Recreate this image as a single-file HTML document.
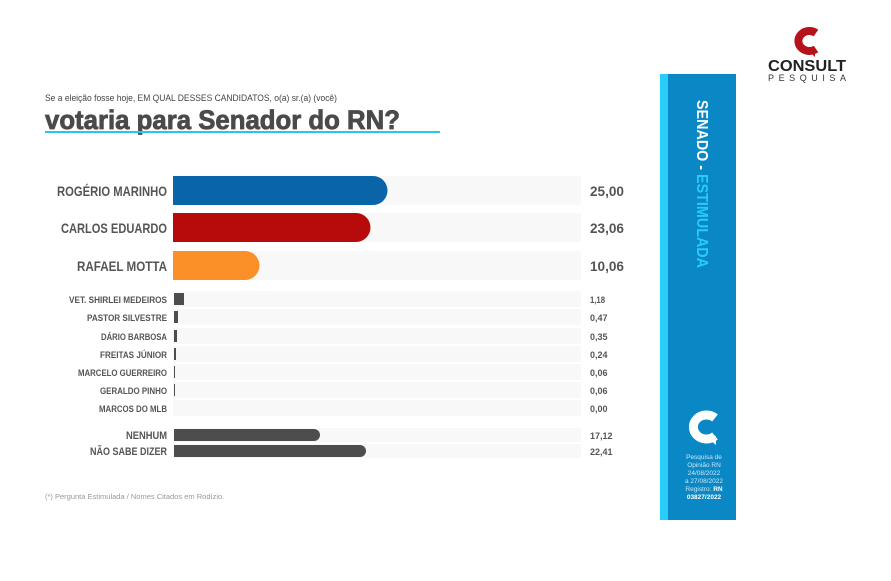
<!DOCTYPE html>
<html><head><meta charset="utf-8"><style>
html,body{margin:0;padding:0;background:#fff;}
svg{display:block;font-family:"Liberation Sans",sans-serif;}
</style></head><body>
<svg width="891" height="581" viewBox="0 0 891 581" xmlns="http://www.w3.org/2000/svg">
<rect width="891" height="581" fill="#fff"/>
<text x="45" y="101" font-size="9" fill="#444" textLength="292" lengthAdjust="spacingAndGlyphs">Se a eleição fosse hoje, EM QUAL DESSES CANDIDATOS, o(a) sr.(a) (você)</text>
<text x="45" y="129" font-size="27" font-weight="bold" fill="#4a4a4a" textLength="355" lengthAdjust="spacingAndGlyphs" stroke="#4a4a4a" stroke-width="0.8">votaria para Senador do RN?</text>
<rect x="45" y="131" width="395" height="2" fill="#29c5f0"/>
<g fill="#f8f8f8">
<rect x="173" y="176" width="408" height="29"/>
<rect x="173" y="213" width="408" height="29"/>
<rect x="173" y="251" width="408" height="29"/>
<rect x="173" y="291" width="408" height="16"/>
<rect x="173" y="309" width="408" height="16"/>
<rect x="173" y="328" width="408" height="16"/>
<rect x="173" y="346" width="408" height="16"/>
<rect x="173" y="364" width="408" height="16"/>
<rect x="173" y="382" width="408" height="16"/>
<rect x="173" y="400" width="408" height="16"/>
<rect x="173" y="428" width="408" height="14"/>
<rect x="173" y="444" width="408" height="14"/>
</g>
<path d="M173 176 H373 a14.5 14.5 0 0 1 0 29 H173Z" fill="#0a64a8"/>
<path d="M173 213 H356 a14.5 14.5 0 0 1 0 29 H173Z" fill="#b70b0b"/>
<path d="M173 251 H245 a14.5 14.5 0 0 1 0 29 H173Z" fill="#fb8f28"/>
<g fill="#4d4d4d">
<rect x="174" y="293" width="10" height="12"/>
<rect x="174" y="311" width="4" height="12"/>
<rect x="174" y="330" width="3" height="12"/>
<rect x="174" y="348" width="2" height="12"/>
<rect x="174" y="366" width="1" height="12"/>
<rect x="174" y="384" width="1" height="12"/>
<path d="M174 429 H314 a6 6 0 0 1 0 12 H174Z"/>
<path d="M174 445 H360 a6 6 0 0 1 0 12 H174Z"/>
</g>
<g font-weight="bold" fill="#555" text-anchor="end">
<text x="167" y="196" font-size="14" textLength="110" lengthAdjust="spacingAndGlyphs">ROGÉRIO MARINHO</text>
<text x="167" y="233" font-size="14" textLength="106" lengthAdjust="spacingAndGlyphs">CARLOS EDUARDO</text>
<text x="167" y="271" font-size="14" textLength="90" lengthAdjust="spacingAndGlyphs">RAFAEL MOTTA</text>
<g font-size="9.5">
<text x="167" y="303" textLength="98" lengthAdjust="spacingAndGlyphs">VET. SHIRLEI MEDEIROS</text>
<text x="167" y="321" textLength="80" lengthAdjust="spacingAndGlyphs">PASTOR SILVESTRE</text>
<text x="167" y="340" textLength="66" lengthAdjust="spacingAndGlyphs">DÁRIO BARBOSA</text>
<text x="167" y="358" textLength="67" lengthAdjust="spacingAndGlyphs">FREITAS JÚNIOR</text>
<text x="167" y="376" textLength="89" lengthAdjust="spacingAndGlyphs">MARCELO GUERREIRO</text>
<text x="167" y="394" textLength="67" lengthAdjust="spacingAndGlyphs">GERALDO PINHO</text>
<text x="167" y="412" textLength="68" lengthAdjust="spacingAndGlyphs">MARCOS DO MLB</text>
</g>
<text x="167" y="439" font-size="11" textLength="41" lengthAdjust="spacingAndGlyphs">NENHUM</text>
<text x="167" y="455" font-size="11" textLength="77" lengthAdjust="spacingAndGlyphs">NÃO SABE DIZER</text>
</g>
<g font-weight="bold" fill="#555">
<text x="590" y="196" font-size="14" textLength="34" lengthAdjust="spacingAndGlyphs">25,00</text>
<text x="590" y="233" font-size="14" textLength="34" lengthAdjust="spacingAndGlyphs">23,06</text>
<text x="590" y="271" font-size="14" textLength="34" lengthAdjust="spacingAndGlyphs">10,06</text>
<g font-size="9">
<text x="590" y="303" textLength="15" lengthAdjust="spacingAndGlyphs">1,18</text>
<text x="590" y="321">0,47</text>
<text x="590" y="340">0,35</text>
<text x="590" y="358">0,24</text>
<text x="590" y="376">0,06</text>
<text x="590" y="394">0,06</text>
<text x="590" y="412">0,00</text>
<text x="590" y="439">17,12</text>
<text x="590" y="455">22,41</text>
</g>
</g>
<text x="45" y="499" font-size="7.5" fill="#999">(*) Pergunta Estimulada / Nomes Citados em Rodízio.</text>
<rect x="660" y="74" width="76" height="446" fill="#0a88c6"/>
<rect x="660" y="74" width="8" height="446" fill="#27cdf8"/>
<text transform="translate(697,100) rotate(90)" font-size="16" font-weight="bold" textLength="168" lengthAdjust="spacingAndGlyphs"><tspan fill="#fff">SENADO - </tspan><tspan fill="#27cdf8">ESTIMULADA</tspan></text>
<path d="M715 418 A13 12 0 1 0 715 436" fill="none" stroke="#fff" stroke-width="9"/>
<path d="M708 438 L716 445 L716 436 Z" fill="#fff"/>
<g font-size="6.5" fill="#cfe6f4" text-anchor="middle">
<text x="704" y="459">Pesquisa de</text>
<text x="704" y="467">Opinião RN</text>
<text x="704" y="475">24/08/2022</text>
<text x="704" y="483">a 27/08/2022</text>
<text x="704" y="491">Registro: <tspan font-weight="bold" fill="#fff">RN</tspan></text>
<text x="704" y="499" font-weight="bold" fill="#fff">03827/2022</text>
</g>
<path d="M816 33 A11 10 0 1 0 816 49" fill="none" stroke="#b5121b" stroke-width="8"/>
<path d="M809 51 L815 57 L815 49 Z" fill="#b5121b"/>
<text x="768" y="71" font-size="15.5" font-weight="bold" fill="#222" textLength="78" lengthAdjust="spacingAndGlyphs">CONSULT</text>
<text x="768" y="81" font-size="9" fill="#333" textLength="78" lengthAdjust="spacing">PESQUISA</text>
</svg>
</body></html>
